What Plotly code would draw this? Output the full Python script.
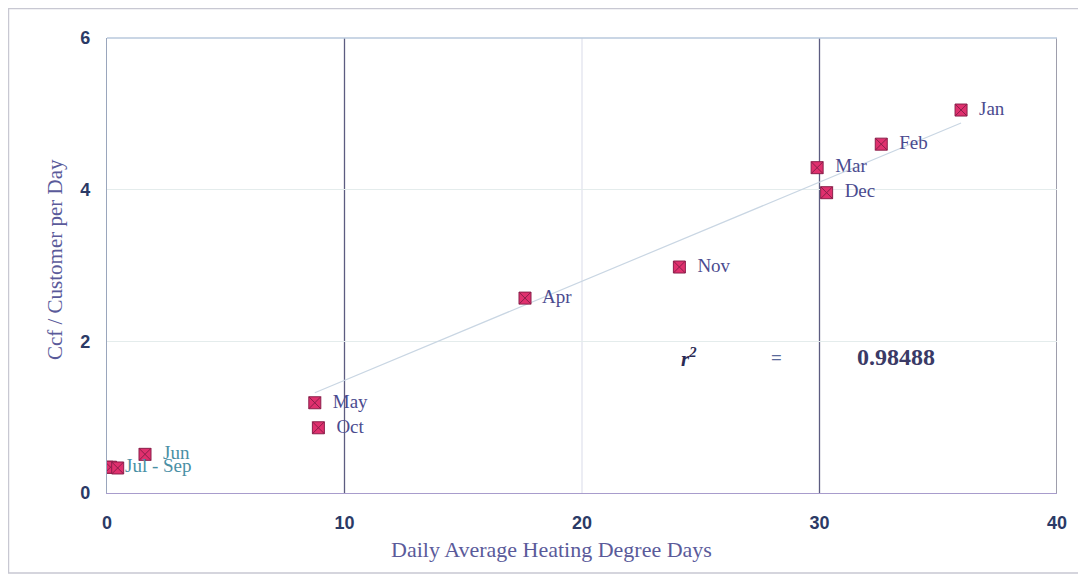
import numpy as np
import plotly.graph_objects as go

# ---- data ----
months = ["Jan", "Feb", "Mar", "Apr", "May", "Jun", "Jul", "Aug", "Sep", "Oct", "Nov", "Dec"]
hdd = [35.96, 32.6, 29.9, 17.6, 8.75, 1.6, 0.0, 0.15, 0.45, 8.9, 24.1, 30.3]
ccf = [5.05, 4.60, 4.29, 2.57, 1.19, 0.51, 0.34, 0.34, 0.33, 0.86, 2.98, 3.96]
point_labels = ["Jan", "Feb", "Mar", "Apr", "May", "Jun", "Jul - Sep", "", "", "Oct", "Nov", "Dec"]
label_colors = ["#4b4b8f"] * 5 + ["#4a8fa5", "#4a8fa5", "#4a8fa5", "#4a8fa5"] + ["#4b4b8f"] * 3
x_ticks = [0, 10, 20, 30, 40]
y_ticks = [0, 2, 4, 6]
r2_text = "0.98488"

# linear trend fitted over all months, drawn across the heating months
slope, intercept = np.polyfit(np.array(hdd), np.array(ccf), 1)
heating = [h for h in hdd if h > 5]
tx = np.array([min(heating), max(heating)])
ty = slope * tx + intercept

fig = go.Figure()
fig.add_trace(go.Scatter(x=tx, y=ty, mode="lines",
                         line=dict(color="#c9d6e3", width=1.2),
                         hoverinfo="skip", showlegend=False))
fig.add_trace(go.Scatter(
    x=hdd, y=ccf, mode="markers+text",
    text=["  " + t if t else "" for t in point_labels],
    textposition="middle right",
    textfont=dict(family="Liberation Serif", size=19, color=label_colors),
    marker=dict(symbol="square-x", size=12, color="#e0306e",
                line=dict(color="#8a1f4a", width=1)),
    showlegend=False))

# vertical grid lines: light at 20, darker at 10 and 30, right frame at 40
for xv, col in [(20, "#e2e4ee"), (10, "#5c5c80"), (30, "#5c5c80"), (40, "#6a6a80")]:
    fig.add_shape(type="line", xref="x", yref="paper", x0=xv, x1=xv, y0=0, y1=1,
                  line=dict(color=col, width=1.3), layer="below")

# outer frame
fig.add_shape(type="rect", xref="paper", yref="paper",
              x0=-0.1037, x1=1.0242, y0=-0.1758, y1=1.0648,
              line=dict(color="#c8c8d2", width=1.5))

fig.add_annotation(x=24.5, y=1.79, xref="x", yref="y", showarrow=False,
                   text="<b><i>r</i></b><sup><b><i>2</i></b></sup>",
                   font=dict(family="Liberation Serif", size=21, color="#2b2b55"))
fig.add_annotation(x=28.2, y=1.79, xref="x", yref="y", showarrow=False,
                   text="<b>=</b>",
                   font=dict(family="Liberation Serif", size=19, color="#5a6a9a"))
fig.add_annotation(x=33.2, y=1.79, xref="x", yref="y", showarrow=False,
                   text="<b>" + r2_text + "</b>",
                   font=dict(family="Liberation Serif", size=24, color="#3a3a66"))

# axis titles
fig.add_annotation(x=0.468, y=-0.125, xref="paper", yref="paper", showarrow=False,
                   text="Daily Average Heating Degree Days", yanchor="middle",
                   font=dict(family="Liberation Serif", size=22, color="#5a5a9a"))
fig.add_annotation(x=-0.0547, y=0.512, xref="paper", yref="paper", showarrow=False,
                   text="Ccf / Customer per Day", textangle=-90, xanchor="center",
                   font=dict(family="Liberation Serif", size=21, color="#5a5a9a"))

tickfont = dict(family="Liberation Sans", size=18, color="#2b3a66", weight="bold")
fig.update_layout(
    width=1086, height=577,
    margin=dict(l=99, r=37, t=30, b=92),
    paper_bgcolor="white", plot_bgcolor="white",
    showlegend=False,
    xaxis=dict(range=[0, 40], tickvals=x_ticks, showgrid=False,
               zeroline=False, showline=True, linecolor="#a89ccc",
               linewidth=1.3, mirror=False, ticks="", ticklabelstandoff=13,
               tickfont=tickfont, automargin=False),
    yaxis=dict(range=[0, 6], tickvals=y_ticks, showgrid=True, gridcolor="#e4ecec",
               gridwidth=1, zeroline=False, showline=True, linecolor="#9aa6bc",
               linewidth=1.3, ticks="", ticklabelstandoff=12,
               tickfont=tickfont, automargin=False),
)
fig.add_shape(type="line", xref="paper", yref="paper", x0=0, x1=1, y0=1, y1=1,
              line=dict(color="#b8c8dc", width=1.3))

fig.write_html("out.html")
